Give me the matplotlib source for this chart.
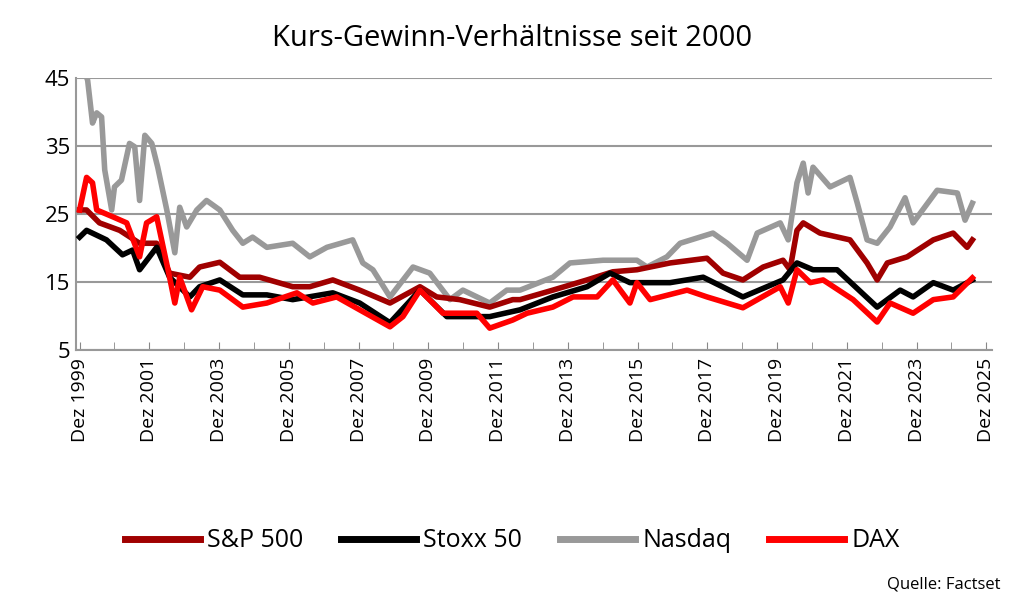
import matplotlib
matplotlib.use("Agg")
import matplotlib.pyplot as plt
import numpy as np

plt.rcParams["font.family"] = "Open Sans"

# years since Dec 1999
nasdaq_t = [0, 0.23, 0.37, 0.49, 0.63, 0.72, 0.92, 1.0, 1.2, 1.43, 1.58, 1.72, 1.87, 2.07, 2.24, 2.5, 2.73, 2.87, 3.07, 3.36, 3.64, 4.02, 4.39, 4.68, 4.96, 5.37, 6.11, 6.6, 7.09, 7.83, 8.12, 8.41, 8.9, 9.56, 10.04, 10.62, 10.99, 11.76, 12.25, 12.63, 13.57, 14.06, 15.01, 15.98, 16.27, 16.84, 17.22, 18.16, 18.57, 19.14, 19.43, 20.09, 20.32, 20.57, 20.75, 20.89, 21.03, 21.52, 22.09, 22.3, 22.58, 22.87, 23.24, 23.67, 23.9, 24.59, 25.17, 25.39, 25.6]
nasdaq = [48, 44.7, 38.4, 39.9, 39.3, 31.5, 25.6, 29, 30, 35.4, 34.9, 27, 36.6, 35.4, 31.9, 25.6, 19.3, 26, 23.1, 25.6, 27, 25.6, 22.6, 20.7, 21.6, 20.1, 20.7, 18.7, 20.1, 21.2, 17.8, 16.8, 12.8, 17.2, 16.3, 12.4, 13.8, 11.9, 13.8, 13.8, 15.7, 17.8, 18.2, 18.2, 17.2, 18.7, 20.7, 22.2, 20.7, 18.2, 22.2, 23.7, 21.2, 29.6, 32.5, 28.1, 31.9, 29, 30.4, 26.6, 21.2, 20.7, 23.1, 27.4, 23.7, 28.5, 28.1, 24.1, 26.6]

sp_t = [0, 0.2, 0.57, 1.15, 1.72, 2.21, 2.58, 3.16, 3.44, 4.02, 4.59, 5.16, 6.11, 6.6, 7.26, 8.03, 8.9, 9.76, 10.24, 10.9, 11.76, 12.42, 12.63, 13.57, 14.55, 15.29, 15.98, 16.93, 17.99, 18.45, 19.02, 19.6, 20.17, 20.37, 20.57, 20.75, 21.23, 22.09, 22.58, 22.87, 23.16, 23.73, 24.48, 25.05, 25.45, 25.6]
sp500 = [25.6, 25.6, 23.7, 22.6, 20.7, 20.7, 16.3, 15.7, 17.2, 17.9, 15.7, 15.7, 14.3, 14.3, 15.3, 13.8, 11.9, 14.3, 12.8, 12.4, 11.3, 12.4, 12.4, 13.8, 15.3, 16.5, 16.8, 17.8, 18.5, 16.3, 15.3, 17.2, 18.2, 16.8, 22.6, 23.7, 22.2, 21.2, 17.8, 15.3, 17.8, 18.7, 21.2, 22.2, 20.1, 21.2]

stoxx_t = [0, 0.2, 0.77, 1.23, 1.52, 1.72, 2.21, 2.58, 3.16, 3.44, 4.02, 4.68, 5.37, 6.11, 7.26, 8.03, 8.9, 9.76, 10.53, 11.76, 12.63, 13.57, 14.55, 15.21, 15.78, 16.93, 17.88, 19.02, 20.17, 20.57, 21.03, 21.72, 22.87, 23.53, 23.9, 24.48, 25.05, 25.6]
stoxx50 = [21.6, 22.6, 21.2, 19, 19.7, 16.8, 20.1, 15.7, 12.8, 14.3, 15.3, 13.1, 13.1, 12.4, 13.4, 11.9, 9, 13.8, 9.9, 9.9, 10.9, 12.8, 14.3, 16.3, 14.9, 14.9, 15.7, 12.8, 15.3, 17.8, 16.8, 16.8, 11.3, 13.8, 12.8, 14.9, 13.8, 15.3]

dax_t = [0, 0.2, 0.37, 0.49, 0.95, 1.35, 1.72, 1.92, 2.21, 2.58, 2.73, 2.87, 3.21, 3.53, 4.02, 4.68, 5.37, 6.23, 6.69, 7.37, 8.03, 8.9, 9.27, 9.76, 10.42, 11.39, 11.76, 12.42, 12.83, 13.57, 14.15, 14.84, 15.29, 15.78, 15.98, 16.36, 17.42, 17.99, 19.02, 20.09, 20.32, 20.57, 20.95, 21.32, 22.18, 22.87, 23.24, 23.9, 24.48, 25.05, 25.6]
dax = [25.6, 30.4, 29.6, 25.6, 24.6, 23.7, 18.7, 23.7, 24.6, 15.7, 11.9, 15.7, 10.9, 14.3, 13.8, 11.3, 11.9, 13.4, 11.9, 12.8, 10.9, 8.4, 9.9, 13.8, 10.4, 10.4, 8.2, 9.4, 10.4, 11.3, 12.8, 12.8, 15.3, 11.9, 14.9, 12.4, 13.8, 12.8, 11.2, 14.3, 11.9, 16.8, 14.9, 15.3, 12.4, 9.1, 11.9, 10.4, 12.4, 12.8, 15.6]

tick_labels = ["Dez %d" % y for y in range(1999, 2026, 2)]
start = 1999.92

fig = plt.figure(figsize=(10.24, 6.16), dpi=100)
ax = fig.add_axes([0.074, 0.432, 0.895, 0.441])
lw = 4.0
ax.plot(start + np.array(nasdaq_t), nasdaq, color="#999999", lw=lw, label="Nasdaq", zorder=2)
ax.plot(start + np.array(sp_t), sp500, color="#a00000", lw=lw, label="S&P 500", zorder=3)
ax.plot(start + np.array(stoxx_t), stoxx50, color="#000000", lw=lw, label="Stoxx 50", zorder=4)
ax.plot(start + np.array(dax_t), dax, color="#ff0000", lw=lw, label="DAX", zorder=5)

ax.set_ylim(5, 45)
ax.set_yticks([5, 15, 25, 35, 45])
ax.set_xlim(start - 0.11, start + 26.17)
ax.set_xticks([start + 2 * i for i in range(len(tick_labels))])
ax.set_xticklabels(tick_labels, rotation=90, fontsize=14)
ax.set_xticks([start + i for i in range(27)], minor=True)
ax.tick_params(axis="y", labelsize=16, length=0, pad=4)
ax.tick_params(axis="x", which="both", length=6, color="#888888", direction="in", pad=6)
ax.grid(axis="y", color="#999999", lw=1.5)
ax.set_axisbelow(True)
for s in ["top", "right"]:
    ax.spines[s].set_visible(False)
for s in ["left", "bottom"]:
    ax.spines[s].set_color("#999999")
    ax.spines[s].set_linewidth(1.5)

fig.text(0.5, 0.925, "Kurs-Gewinn-Verhältnisse seit 2000", ha="center", fontsize=21)
handles, labels = ax.get_legend_handles_labels()
order = [1, 2, 0, 3]
fig.legend([handles[i] for i in order], [labels[i] for i in order], loc="center",
           bbox_to_anchor=(0.5, 0.122), ncol=4, frameon=False, fontsize=18,
           handlelength=3.0, columnspacing=1.5, handletextpad=0.3)
for h in fig.legends[0].get_lines():
    h.set_linewidth(5)
fig.text(0.977, 0.045, "Quelle: Factset", ha="right", fontsize=12)
fig.savefig("out.png", dpi=100)
